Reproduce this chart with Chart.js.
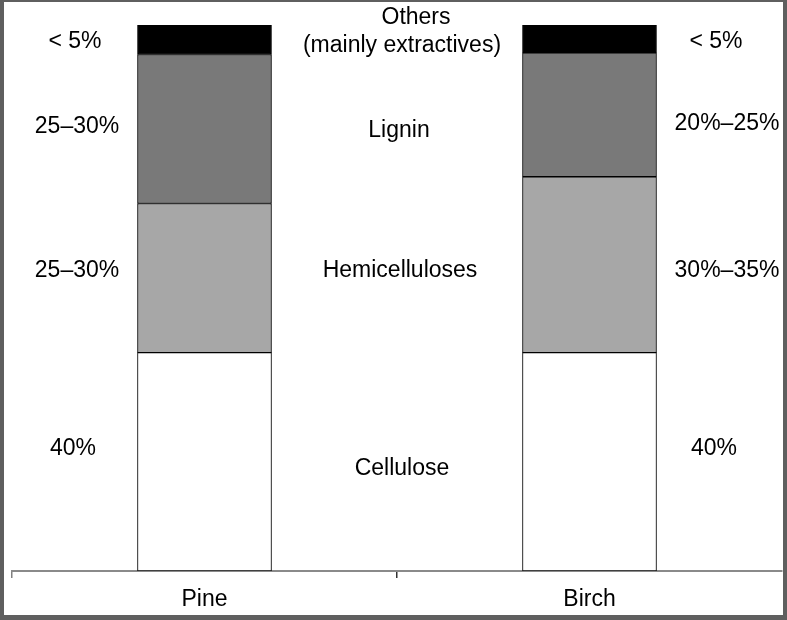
<!DOCTYPE html>
<html>
<head>
<meta charset="utf-8">
<script src="https://cdn.jsdelivr.net/npm/chart.js@4/dist/chart.umd.min.js"></script>
<style>
    html, body { margin: 0; padding: 0; background: #5f5f5f; }
    #wrap { position: absolute; left: 4px; top: 2px; width: 779px; height: 613px; background: #fff; }
</style>
</head>
<body>
<div id="wrap"><canvas id="chart" width="779" height="613"></canvas></div>
<script>
// wood species on the x axis
var species = ['Pine', 'Birch'];

// share of each component, % of dry wood (bottom to top of the stack)
var cellulose = [40, 40];
var hemicelluloses = [27.3, 32.2];
var lignin = [27.3, 22.7];
var others = [5.4, 5.1];

// text written beside the bars
var pineNotes = ['< 5%', '25–30%', '25–30%', '40%'];
var birchNotes = ['< 5%', '20%–25%', '30%–35%', '40%'];
var componentNotes = ['Others', '(mainly extractives)', 'Lignin', 'Hemicelluloses', 'Cellulose'];

var FONT = "'Liberation Sans', Arial, sans-serif";

// where the side texts sit (canvas pixels)
var noteLayout = {
    pine: { x: [71, 73, 73, 69], y: [40, 125, 269, 447] },
    birch: { x: [712, 723, 723, 710], y: [40, 122, 269, 447] },
    middle: { x: [412, 398, 395, 396, 398], y: [16, 44, 129, 269, 467] }
};

var notesPlugin = {
    id: 'notes',
    afterDraw: function(chart) {
        var ctx = chart.ctx;
        ctx.save();
        ctx.font = '23px ' + FONT;
        ctx.fillStyle = '#000';
        ctx.textAlign = 'center';
        ctx.textBaseline = 'middle';
        pineNotes.forEach(function(t, i) {
            ctx.fillText(t, noteLayout.pine.x[i], noteLayout.pine.y[i]);
        });
        birchNotes.forEach(function(t, i) {
            ctx.fillText(t, noteLayout.birch.x[i], noteLayout.birch.y[i]);
        });
        componentNotes.forEach(function(t, i) {
            ctx.fillText(t, noteLayout.middle.x[i], noteLayout.middle.y[i]);
        });
        ctx.restore();
    }
};

function segment(label, data, color) {
    return {
        label: label,
        data: data,
        backgroundColor: color,
        borderColor: '#000',
        borderWidth: 1,
        borderSkipped: false,
        barThickness: 134
    };
}

new Chart(document.getElementById('chart'), {
    type: 'bar',
    data: {
        labels: species,
        datasets: [
            segment('Cellulose', cellulose, '#ffffff'),
            segment('Hemicelluloses', hemicelluloses, '#a7a7a7'),
            segment('Lignin', lignin, '#797979'),
            segment('Others', others, '#000000')
        ]
    },
    options: {
        responsive: false,
        animation: false,
        devicePixelRatio: 1,
        layout: {
            padding: { left: 8, right: 1, top: 23, bottom: 0 }
        },
        plugins: {
            legend: { display: false },
            tooltip: { enabled: false }
        },
        scales: {
            x: {
                stacked: true,
                offset: true,
                grid: {
                    offset: true,
                    drawOnChartArea: false,
                    tickLength: 7,
                    lineWidth: 1.5,
                    color: function(c) {
                        // the closing line past the last category has no tick context
                        if (c.index === undefined || c.index >= species.length) {
                            return 'rgba(0,0,0,0)';
                        }
                        return c.index === 1 ? '#333' : '#808080';
                    }
                },
                border: { display: true, color: '#8a8a8a', width: 2 },
                ticks: {
                    color: '#000',
                    padding: 8,
                    font: { family: FONT, size: 23 }
                },
                afterFit: function(scale) {
                    scale.height = 44;
                }
            },
            y: {
                stacked: true,
                display: false,
                min: 0,
                max: 100
            }
        }
    },
    plugins: [notesPlugin]
});
</script>
</body>
</html>
